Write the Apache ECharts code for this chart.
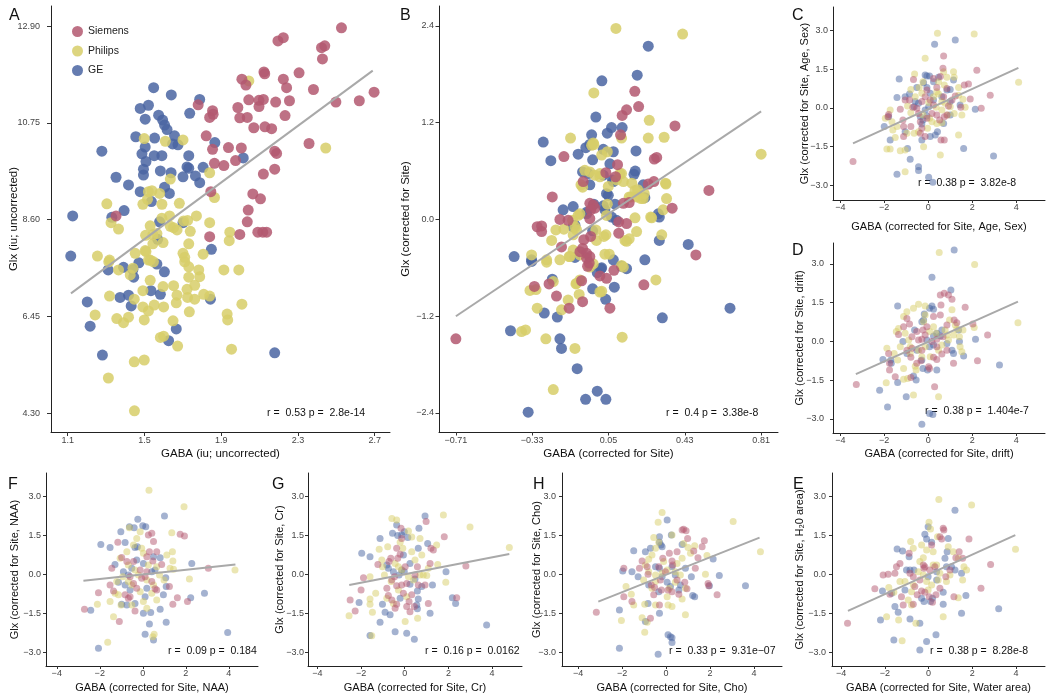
<!DOCTYPE html>
<html><head><meta charset="utf-8">
<script src="https://cdn.jsdelivr.net/npm/echarts@6/dist/echarts.min.js"></script>
<style>html,body{margin:0;padding:0;background:#fff}#c{width:1050px;height:698px}</style>
</head><body><div id="c"></div>
<script>
// ---------------- DATA ----------------
const vendors = ['Siemens', 'Philips', 'GE'];

// Tick labels
const xTicksA = [1.1, 1.5, 1.9, 2.3, 2.7];
const yTicksA = [4.30, 6.45, 8.60, 10.75, 12.90];
const xTicksB = [-0.71, -0.33, 0.05, 0.43, 0.81];
const yTicksB = [-2.4, -1.2, 0.0, 1.2, 2.4];
const xTicksSmall = [-4, -2, 0, 2, 4];
const yTicksSmall = [-3.0, -1.5, 0.0, 1.5, 3.0];

// Panel A: GABA (iu; uncorrected) vs Glx (iu; uncorrected)
const sieA = [[2.527,12.86],[2.196,12.57],[2.224,12.64],[2.423,12.42],[2.44,12.46],[2.428,12.17],[2.123,11.88],[2.127,11.84],[2.008,11.72],[2.029,11.59],[2.224,11.72],[2.241,11.53],[2.306,11.86],[2.381,11.49],[2.498,11.21],[2.62,11.24],[2.697,11.43],[2.044,11.26],[2.097,11.25],[2.12,11.27],[2.097,11.11],[2.184,11.21],[2.256,11.24],[1.78,11.15],[1.855,11.02],[1.858,10.94],[1.84,10.87],[1.987,11.09],[1.997,10.86],[2.036,10.87],[2.233,10.91],[2.07,10.64],[2.128,10.66],[2.163,10.62],[1.822,10.46],[1.938,10.2],[2.005,10.19],[1.855,10.16],[2.358,10.29],[2.179,10.12],[2.189,10.07],[1.865,9.85],[1.914,9.8],[1.975,9.91],[2.179,9.72],[2.12,9.61],[1.846,9.22],[2.065,9.17],[2.105,9.06],[2.041,8.81],[2.036,8.55],[2.091,8.32],[2.117,8.32],[2.137,8.32],[1.997,8.27],[1.84,8.22],[1.352,8.68]];
const phiA = [[2.044,11.68],[1.499,10.40],[1.609,10.34],[1.701,10.37],[2.445,10.19],[1.84,9.64],[1.635,9.50],[1.521,9.22],[1.539,9.24],[1.579,9.18],[1.516,9.05],[1.304,8.95],[1.492,8.94],[1.591,8.94],[1.682,8.96],[1.865,9.09],[1.326,8.53],[1.365,8.39],[1.53,8.46],[1.591,8.63],[1.631,8.68],[1.635,8.45],[1.652,8.42],[1.67,8.37],[1.725,8.58],[1.771,8.68],[1.84,8.53],[1.739,8.34],[1.945,8.32],[1.942,8.13],[1.506,8.25],[1.544,8.26],[1.565,8.29],[1.597,8.09],[1.544,8.06],[1.731,8.06],[1.504,7.91],[1.255,7.79],[1.318,7.70],[1.452,7.85],[1.701,7.85],[1.806,7.83],[1.53,7.70],[1.314,7.66],[1.365,7.48],[1.508,7.89],[1.521,7.70],[1.547,7.66],[1.426,7.37],[1.44,7.52],[1.71,7.66],[1.731,7.55],[1.783,7.48],[1.788,7.33],[1.731,7.32],[1.53,7.25],[1.597,7.11],[1.652,7.13],[1.762,7.14],[1.914,7.48],[1.992,7.48],[1.492,7.02],[1.722,7.05],[1.67,6.92],[1.725,6.87],[1.762,6.83],[1.809,6.94],[1.84,6.90],[1.318,6.90],[1.447,6.83],[1.492,6.66],[1.521,6.57],[1.551,6.70],[1.60,6.66],[1.666,6.75],[2.008,6.72],[1.243,6.48],[1.356,6.40],[1.417,6.43],[1.391,6.31],[1.499,6.37],[1.649,6.35],[1.734,6.55],[1.931,6.50],[1.934,6.37],[1.583,5.98],[1.60,6.01],[1.673,5.79],[1.954,5.72],[1.447,5.44],[1.499,5.48],[1.312,5.08],[1.448,4.35],[1.71,7.76],[1.704,8.57]];
const geA = [[1.548,11.53],[1.64,11.37],[1.788,11.27],[1.478,11.07],[1.521,11.14],[1.504,10.83],[1.574,10.92],[1.595,10.81],[1.605,10.70],[1.618,10.60],[1.736,10.96],[1.455,10.44],[1.553,10.41],[1.657,10.46],[1.647,10.28],[1.675,10.26],[1.867,10.31],[1.278,10.12],[1.504,10.21],[1.487,10.06],[1.508,9.89],[1.551,10.02],[1.591,10.02],[1.731,10.02],[2.015,9.97],[1.495,9.72],[1.495,9.59],[1.583,9.68],[1.639,9.64],[1.722,9.77],[1.731,9.74],[1.806,9.76],[1.352,9.54],[1.417,9.37],[1.701,9.55],[1.766,9.57],[1.788,9.42],[1.605,9.32],[1.63,9.18],[1.478,9.22],[1.536,9.00],[1.394,8.80],[1.33,8.65],[1.126,8.68],[1.579,8.55],[1.701,8.53],[1.569,8.16],[1.849,7.94],[1.116,7.79],[1.311,7.48],[1.391,7.54],[1.44,7.49],[1.444,7.32],[1.471,7.64],[1.565,7.61],[1.604,7.44],[1.202,6.77],[1.373,6.87],[1.417,6.92],[1.431,6.68],[1.534,7.02],[1.583,6.94],[1.844,6.83],[1.217,6.23],[1.666,6.17],[1.626,5.91],[1.281,5.59],[2.179,5.64]];
const fitA = [[1.117,6.96],[2.69,11.91]];

// Panel B: corrected for Site
const sieB = [[0.181,1.59],[0.14,1.36],[0.118,1.29],[0.2,1.40],[0.381,1.16],[0.11,1.05],[-0.172,0.78],[0.278,0.75],[0.29,0.77],[0.095,0.68],[0.085,0.53],[0.037,0.58],[-0.076,0.47],[0.248,0.44],[0.276,0.47],[-0.23,0.28],[-0.043,0.20],[-0.026,0.18],[-0.018,0.14],[-0.039,0.12],[0.124,0.20],[0.153,0.21],[0.367,0.14],[-0.192,0.00],[-0.151,-0.01],[-0.043,0.01],[0.101,-0.03],[0.14,-0.05],[-0.305,-0.09],[-0.283,-0.08],[-0.283,-0.15],[-0.073,-0.25],[-0.079,-0.36],[0.101,-0.17],[-0.184,-0.34],[-0.059,-0.42],[-0.043,-0.46],[0.485,-0.44],[-0.092,-0.40],[-0.059,-0.48],[-0.046,-0.54],[-0.054,-0.58],[0.007,-0.70],[0.04,-0.73],[0.077,-0.63],[-0.084,-0.76],[-0.319,-0.83],[-0.246,-0.80],[-0.209,-0.95],[-0.079,-1.02],[-0.146,-1.10],[0.057,-1.10],[0.226,-0.81],[-0.71,-1.48],[-0.039,-0.21],[0.55,0.36]];
const phiB = [[0.087,2.37],[0.419,2.30],[-0.023,1.57],[0.253,1.23],[-0.139,1.01],[0.248,1.01],[0.327,1.02],[0.115,1.01],[-0.023,0.93],[0.016,0.80],[0.044,0.84],[-0.068,0.61],[-0.043,0.59],[0.007,0.53],[-0.018,0.55],[-0.087,0.43],[-0.079,0.40],[0.107,0.57],[0.124,0.47],[0.166,0.45],[0.182,0.36],[0.049,0.41],[0.336,0.44],[0.339,0.26],[0.322,0.12],[0.153,0.28],[0.19,0.28],[0.223,0.26],[0.044,0.19],[0.26,0.03],[0.182,0.02],[-0.092,0.07],[-0.129,-0.01],[-0.212,-0.13],[-0.172,-0.12],[-0.233,-0.26],[-0.126,-0.19],[-0.109,-0.13],[0.037,-0.19],[0.19,-0.15],[0.315,-0.19],[0.032,-0.43],[0.14,-0.27],[0.153,-0.24],[0.054,-0.43],[-0.333,-0.44],[-0.258,-0.50],[-0.192,-0.50],[-0.258,-0.53],[-0.146,-0.46],[-0.092,-0.44],[0.124,-0.59],[-0.225,-0.77],[-0.341,-0.88],[-0.311,-0.87],[-0.092,-0.75],[-0.112,-0.80],[-0.096,-0.93],[-0.151,-1.00],[0.016,-0.89],[0.286,-0.75],[-0.305,-1.10],[-0.184,-1.12],[-0.383,-1.39],[-0.363,-1.37],[-0.262,-1.48],[-0.117,-1.60],[0.118,-1.46],[-0.225,-2.11],[-0.026,0.95],[-0.034,0.92],[0.007,0.57],[0.115,0.57],[0.09,0.49],[0.195,0.37],[0.162,0.28],[0.212,0.26],[0.228,0.32],[0.334,0.45],[0.265,0.02],[-0.101,0.05],[-0.117,-0.09],[0.04,0.05],[0.027,-0.21],[0.132,-0.26],[-0.013,-0.13],[-0.01,-0.26],[-0.126,-0.38],[-0.142,-0.46],[-0.026,-0.55],[-0.043,-0.59],[0.115,-0.57],[-0.109,-0.79],[0.007,-0.90],[0.81,0.81]];
const geB = [[0.248,2.15],[0.193,1.79],[0.017,1.72],[-0.013,1.27],[0.065,1.14],[0.118,1.14],[0.044,1.07],[-0.034,1.05],[-0.043,0.93],[-0.063,0.89],[-0.275,0.96],[-0.237,0.73],[-0.101,0.81],[0.024,0.87],[0.074,0.84],[-0.029,0.74],[0.187,0.85],[-0.079,0.59],[-0.051,0.57],[0.057,0.69],[0.07,0.49],[0.183,0.60],[0.177,0.56],[-0.043,0.43],[0.04,0.32],[0.082,0.19],[0.223,0.43],[0.231,0.27],[-0.176,0.12],[-0.126,0.16],[-0.059,0.07],[-0.023,0.19],[0.024,0.17],[0.032,0.12],[0.065,0.03],[0.09,-0.01],[0.298,0.07],[0.303,0.03],[-0.126,-0.09],[-0.029,-0.14],[0.447,-0.31],[-0.42,-0.46],[-0.333,-0.50],[0.074,-0.50],[0.231,-0.50],[-0.333,-0.52],[-0.117,-0.47],[0.115,-0.58],[0.14,-0.61],[-0.006,-0.66],[0.012,-0.61],[-0.23,-0.74],[-0.029,-0.86],[0.079,-0.84],[0.036,-0.99],[-0.27,-1.16],[-0.205,-1.21],[0.318,-1.22],[-0.438,-1.38],[-0.192,-1.48],[-0.184,-1.60],[-0.106,-1.85],[-0.006,-2.13],[-0.064,-2.23],[0.037,-2.23],[-0.35,-2.39],[0.024,0.55],[0.074,0.47],[0.049,0.30],[-0.059,0.09],[0.303,-0.26],[-0.117,-0.07],[0.016,-0.60],[0.655,-1.10]];
const fitB = [[-0.71,-1.2],[0.81,1.34]];

// Panel C: corrected for Site, Age, Sex
const sieC = [[-3.42,-2.08],[0.70,2.02],[0.67,1.54],[2.21,1.47],[2.82,0.50],[1.91,0.35],[2.41,-0.01],[1.48,0.03],[1.64,0.89],[1.83,0.93],[-0.67,1.11],[-1.27,-0.05],[-1.83,-0.34],[-1.80,-0.25],[-1.15,-0.47],[-1.12,-0.72],[-1.12,-1.11],[-0.70,0.03],[-0.52,-0.01],[-0.29,0.25],[-0.14,0.44],[-0.85,0.31],[-0.79,-0.72],[-0.36,-0.53],[-0.29,-0.79],[-0.14,-1.11],[-0.36,-0.98],[0.24,1.15],[0.39,0.80],[0.70,0.44],[0.85,0.76],[0.17,-0.21],[0.39,-0.27],[0.73,-0.34],[0.85,-0.27],[0.58,-1.24],[0.73,-1.24],[1.08,0.31],[1.23,0.47],[-0.06,0.70],[0.09,0.31],[0.24,0.12],[0.55,1.22],[-1.05,0.31],[-0.44,-0.21],[-0.06,-0.40],[0.52,-0.47],[0.92,0.08]];
const phiC = [[0.42,2.90],[2.09,2.87],[-0.14,1.93],[4.11,1.00],[-0.62,1.32],[-0.24,1.02],[-0.41,0.80],[-0.79,0.72],[1.15,1.41],[1.18,1.19],[1.38,0.80],[0.70,1.41],[0.85,1.19],[0.73,0.89],[0.02,0.21],[0.24,0.44],[0.39,0.63],[0.47,0.54],[1.53,-0.27],[1.68,0.03],[1.58,0.34],[-1.95,-0.40],[-1.65,-0.53],[-1.61,-0.85],[-1.88,-1.59],[-1.73,-1.59],[-1.27,-1.66],[-1.05,-1.63],[-1.05,-2.47],[-0.64,-0.98],[-0.44,-0.92],[-0.21,-1.50],[0.17,-0.53],[0.39,-0.60],[0.62,-0.57],[0.88,-0.27],[1.38,-1.05],[0.55,-1.82],[1.0,0.05],[1.18,-0.21],[-1.42,-0.72],[-1.50,-1.14],[-0.29,0.57],[-0.59,0.44],[0.62,0.25],[0.77,0.18],[0.47,1.02],[-1.73,-0.08],[-0.94,0.08],[-0.79,-0.18],[-0.24,-0.27],[0.06,-0.40],[0.36,0.03],[0.62,-0.08],[1.38,0.50],[-0.97,-0.98],[-0.03,-0.79]];
const geC = [[0.29,2.47],[1.23,2.64],[-1.32,1.13],[-0.14,1.28],[-0.06,1.24],[0.06,1.24],[-0.21,0.98],[-0.06,0.80],[0.24,1.02],[0.47,1.19],[1.15,1.09],[1.0,0.72],[-0.85,0.54],[-0.52,0.80],[-1.42,0.41],[-1.05,0.44],[-0.59,0.25],[-0.44,0.18],[0.02,0.05],[0.24,0.31],[-0.14,-0.08],[1.0,0.25],[1.45,0.12],[2.14,-0.05],[-1.80,-0.34],[-2.0,-0.72],[-0.36,-0.34],[-0.24,-0.47],[-0.06,-0.31],[0.42,-0.92],[0.70,-0.60],[-1.05,-0.92],[-1.73,-1.24],[-0.94,-1.57],[-0.29,-1.24],[0.09,-1.11],[0.32,-1.05],[-0.82,-1.99],[-0.44,-2.28],[-0.44,-2.43],[-1.42,-2.57],[0.02,-2.69],[0.21,-2.88],[1.61,-1.57],[2.97,-1.86],[1.0,-0.27],[0.85,0.70],[-0.64,0.05],[0.09,0.57],[0.62,0.44],[-0.29,-0.62]];
const fitC = [[-3.42,-1.37],[4.1,1.56]];

// Panel D: corrected for Site, drift
const sieD = [[-3.27,-1.67],[-1.80,-0.47],[-1.76,-0.85],[-1.76,-1.11],[-1.50,-1.37],[-1.35,0.27],[-1.12,0.57],[-0.97,0.89],[-0.85,0.67],[-0.74,0.18],[-0.52,0.38],[-0.97,-0.34],[-0.79,-0.62],[-0.24,0.44],[-0.14,0.25],[-0.29,0.08],[-0.52,-0.85],[-0.33,-0.75],[-0.79,-1.40],[0.02,-0.98],[0.06,-1.05],[0.29,-1.76],[0.55,1.80],[0.73,1.86],[0.92,1.80],[1.08,1.63],[0.58,1.41],[0.55,1.02],[1.68,1.32],[1.18,0.83],[1.30,0.72],[2.03,0.67],[2.70,0.25],[2.24,-0.75],[1.15,-0.85],[0.24,-0.62],[0.39,-0.70],[0.85,0.63],[0.67,0.18],[0.17,-0.01],[0.39,0.08],[0.62,-0.49],[-0.29,-0.34],[0.24,0.96],[-0.06,0.57],[-0.74,-0.27],[0.39,-0.21],[0.85,-0.34],[-0.44,0.05]];
const phiD = [[0.50,3.44],[2.11,2.98],[4.08,0.72],[-0.44,1.44],[-0.14,1.37],[-0.67,1.28],[-0.14,1.02],[-0.97,1.15],[-1.12,0.96],[-1.35,0.50],[-1.45,0.38],[-1.88,-0.27],[-1.55,-0.47],[-1.39,-0.72],[-1.91,-1.60],[-1.12,-1.05],[-0.94,-1.44],[-1.12,-1.47],[-0.59,-0.96],[-0.55,-1.11],[-0.67,-2.08],[0.47,-2.15],[1.08,1.22],[0.97,0.83],[1.23,0.63],[1.30,0.47],[1.42,0.18],[1.58,0.44],[1.45,-0.21],[1.53,-0.40],[2.09,0.54],[0.77,0.44],[0.85,0.25],[0.24,0.57],[0.36,0.31],[-0.14,-0.21],[-0.29,-0.60],[0.47,-0.34],[-0.89,0.05],[-0.82,-0.21],[-0.21,0.76],[0.06,0.38],[-1.27,-0.21],[-0.82,-0.47],[-0.44,-0.34],[0.09,-0.60],[0.62,-0.14],[0.92,0.05],[-1.05,0.31],[1.15,0.25]];
const geD = [[1.18,3.54],[0.17,2.48],[1.03,1.99],[-1.39,1.37],[-0.18,1.06],[0.06,1.28],[0.17,1.37],[0.24,1.24],[-0.29,0.76],[-0.21,0.83],[-0.62,0.44],[-1.15,-0.01],[-1.70,-0.72],[-1.68,-0.85],[-2.06,-0.70],[0.24,0.21],[0.39,0.31],[0.55,0.21],[0.06,-0.21],[0.24,-0.14],[1.08,-0.34],[1.15,-0.47],[1.42,-0.01],[1.61,-0.57],[2.15,0.08],[3.24,-0.92],[-0.24,-1.05],[-0.03,-1.11],[0.39,-1.11],[-0.67,-1.34],[-0.55,-1.50],[-1.39,-1.59],[-2.21,-1.89],[-1.0,-2.15],[-1.85,-2.54],[0.06,-2.79],[0.21,-2.83],[-0.29,-3.21],[0.85,-0.08],[1.38,0.44],[-0.52,-0.34],[-0.06,0.05],[0.62,0.44],[-0.29,-0.72],[-0.97,-0.47]];
const fitD = [[-3.29,-1.27],[4.08,1.54]];

// Panel F: corrected for Site, NAA
const sieF = [[-2.71,-1.35],[-2.06,-0.71],[-1.44,0.23],[-1.52,-0.41],[-1.36,-0.64],[-1.09,-1.82],[-1.16,1.23],[-0.98,0.65],[-0.74,0.49],[-0.67,-0.92],[-0.59,-0.86],[-0.36,-1.41],[-0.12,0.17],[-0.05,-0.15],[-0.43,-0.35],[0.26,1.51],[0.42,1.58],[0.50,1.26],[0.31,0.87],[0.19,0.68],[0.47,0.51],[0.65,-0.60],[0.57,-0.56],[0.88,0.38],[1.24,-0.47],[1.40,-1.15],[1.61,-0.90],[1.74,1.54],[1.94,1.47],[2.08,-1.05],[3.05,0.23],[-0.28,-0.54],[0.19,0.10],[-0.82,-0.79],[-0.43,0.49],[0.11,-0.09],[0.42,-0.28],[-0.59,-0.09],[0.65,0.87]];
const phiF = [[0.29,3.24],[1.92,2.60],[4.29,0.17],[1.35,1.60],[1.38,0.87],[1.40,0.51],[1.27,0.23],[1.43,0.19],[2.17,-0.18],[-2.11,-1.15],[-1.63,-2.62],[-1.36,-1.63],[-1.52,-1.05],[-1.29,-0.73],[-1.13,-0.79],[-1.05,0.62],[-0.67,0.36],[-0.62,1.79],[-0.43,1.13],[-0.28,1.38],[-0.12,1.64],[-0.05,1.0],[0.03,0.81],[-0.36,0.17],[0.19,-0.22],[0.42,-0.73],[0.03,-1.05],[0.47,-2.40],[0.53,-2.31],[0.19,-1.31],[0.65,0.29],[0.78,-0.03],[0.99,-0.22],[-0.67,-0.28],[-0.51,-0.41],[-0.93,-0.09],[0.65,-0.99],[-1.01,-1.18],[-1.21,-0.28],[-0.2,-0.03],[0.26,0.36],[0.5,-0.41],[-0.74,0.87],[1.12,0.74],[-0.12,-0.67],[-0.51,-1.18]];
const geF = [[-2.06,-2.85],[-2.42,-1.38],[-1.95,1.15],[-1.52,1.03],[-1.02,1.64],[-0.62,1.83],[-0.40,1.79],[-0.23,2.12],[0.0,1.87],[0.14,1.83],[1.01,2.24],[-0.82,1.22],[-0.36,1.03],[-0.25,1.06],[-1.29,0.38],[-0.9,0.10],[-0.67,-0.03],[0.03,0.42],[-0.51,0.23],[0.5,0.68],[0.42,0.10],[0.81,0.64],[1.07,-0.13],[1.09,-0.47],[0.96,-0.79],[2.28,0.42],[2.23,-0.90],[2.87,-0.73],[-0.98,-1.15],[-0.74,-1.18],[-0.36,-1.12],[0.11,-0.86],[0.03,-1.50],[0.37,-1.47],[0.31,-1.91],[0.11,-2.31],[0.5,-2.53],[1.09,-1.85],[0.81,-1.35],[3.95,-2.24],[-0.82,-0.41],[-1.13,-0.31],[-0.28,0.55],[0.19,-0.54],[-0.59,-0.6],[0.57,0.17]];
const fitF = [[-2.76,-0.25],[4.31,0.38]];

// Panel G: corrected for Site, Cr
const sieG = [[-2.5,-0.99],[-2.27,-1.41],[-1.89,-0.13],[-2.0,-0.6],[-1.23,0.38],[-0.82,-0.54],[-0.75,-0.82],[-0.59,-0.99],[-0.44,-1.31],[-0.37,-1.15],[-0.17,1.77],[-0.14,1.38],[-0.37,1.0],[-0.21,0.77],[-0.32,0.62],[-0.47,-0.09],[-0.37,-0.44],[-0.14,-0.41],[0.09,-0.35],[0.32,-0.79],[0.2,-1.05],[0.44,-1.24],[0.09,-1.24],[0.24,-1.44],[0.58,0.29],[0.62,-0.41],[0.93,-0.41],[0.98,2.03],[1.2,1.0],[1.31,0.94],[1.16,0.42],[1.81,1.45],[2.38,-0.90],[2.8,0.32],[1.08,-1.12],[-0.64,0.62],[-0.72,0.49],[0.02,0.29],[-0.59,-0.22],[0.47,-0.03],[-0.06,-0.73]];
const phiG = [[-2.55,-1.60],[-1.59,-0.09],[-1.59,-0.95],[-1.59,-1.15],[-1.48,-1.46],[-1.51,-2.37],[-1.33,-0.73],[-1.17,0.96],[-1.05,0.55],[-1.02,0.29],[-0.59,2.15],[-0.37,2.09],[-0.21,1.23],[-0.09,1.0],[0.17,1.67],[0.32,1.44],[0.70,1.38],[0.32,0.87],[0.47,0.55],[0.70,-0.03],[0.85,-0.03],[1.01,-0.05],[1.46,1.13],[1.51,0.38],[1.77,2.28],[1.88,-0.31],[2.99,1.82],[4.79,1.03],[0.02,-1.82],[0.59,-1.69],[-0.93,-0.03],[-0.62,-0.28],[-0.52,-1.12],[-0.14,0.17],[0.09,-0.86],[-0.78,1.06],[-0.29,0.29],[0.40,-0.22],[-0.44,0.42],[0.17,-0.09],[0.78,0.74],[-0.29,-0.6],[-0.82,-0.92],[1.08,0.23]];
const geG = [[-1.59,-2.36],[-2.09,-1.09],[-1.97,0.81],[-1.59,0.68],[-1.13,1.38],[-1.02,-1.15],[-0.9,-1.46],[-1.13,-1.85],[-0.67,-1.56],[-0.56,1.58],[-0.37,1.90],[-0.32,1.49],[-0.14,1.51],[-0.02,1.64],[0.14,1.42],[-0.26,-0.03],[-0.06,0.74],[-0.14,0.17],[-0.02,0.10],[-0.44,-2.21],[0.09,-2.27],[0.44,-2.50],[0.58,-0.64],[0.62,-0.95],[0.55,-1.18],[0.58,-1.33],[0.47,-0.18],[0.62,1.0],[0.65,1.77],[0.93,2.24],[1.05,1.19],[1.16,-1.50],[1.27,-0.41],[1.89,0.10],[2.18,-0.90],[2.33,-1.12],[3.75,-1.95],[0.24,-0.38],[-0.82,0.36],[-0.75,0.23],[-0.52,0.10],[0.24,0.42],[-0.21,-0.92],[0.78,-0.47]];
const fitG = [[-2.54,-0.41],[4.79,0.78]];

// Panel H: corrected for Site, Cho
const sieH = [[-3.17,-1.46],[-1.92,0.23],[-1.92,-0.86],[-1.55,-1.05],[-1.09,0.51],[-1.21,0.23],[-0.82,0.0],[-0.67,-0.41],[-0.52,-0.51],[-0.71,-1.69],[-0.33,0.29],[-0.26,-0.22],[-0.21,-0.6],[-0.30,-1.18],[0.15,0.81],[0.27,0.51],[0.30,0.36],[0.27,-0.67],[0.58,-0.77],[0.73,1.71],[0.80,1.73],[0.91,1.68],[0.98,1.38],[0.85,-0.31],[0.95,-0.56],[1.26,0.90],[1.45,0.64],[1.33,0.23],[1.74,1.29],[1.64,1.06],[1.91,-0.35],[1.94,-0.44],[2.32,-0.79],[0.09,-0.60],[-0.15,0.62],[0.5,0.87],[-0.03,0.10],[0.5,-0.22],[-0.56,-0.79],[-0.86,0.29]];
const phiH = [[-0.18,2.38],[-0.36,2.0],[-0.56,1.42],[0.27,1.51],[0.80,1.19],[1.0,1.03],[1.11,0.81],[1.30,1.10],[1.86,0.72],[1.79,0.0],[3.05,2.03],[4.29,0.87],[-1.82,-0.47],[-1.58,-0.77],[-1.47,-1.18],[-2.03,-1.78],[-0.97,-2.23],[-0.86,-1.85],[-1.09,-1.67],[-0.97,-1.15],[-0.64,-0.54],[-0.48,-1.18],[-0.94,0.36],[-0.79,0.58],[-0.64,0.74],[-0.79,0.10],[-0.48,-0.03],[-0.18,0.04],[0.05,0.17],[0.15,-0.54],[0.42,-0.31],[0.65,-0.03],[0.73,-0.95],[0.88,-1.56],[0.09,-1.18],[0.27,-1.24],[-0.48,1.0],[-0.33,1.23],[0.5,0.42],[0.73,0.62],[-0.48,-0.28],[-0.11,0.49],[0.42,0.10],[-1.02,-0.22],[0.88,-0.54],[0.05,-0.86]];
const geH = [[-2.12,-2.85],[-2.12,-1.37],[-1.47,0.91],[-1.55,0.10],[-1.97,0.13],[-0.94,0.87],[-0.71,1.0],[-0.94,-1.82],[-0.82,-1.12],[-0.30,1.45],[-0.30,1.23],[-0.23,1.13],[-0.18,1.06],[0.05,2.09],[0.24,1.51],[-0.48,0.29],[-0.30,0.23],[-0.18,-0.09],[0.05,-0.31],[0.20,-0.47],[-0.30,-1.50],[0.09,-2.33],[0.20,-2.40],[0.27,-2.63],[0.27,-2.44],[-0.36,-3.08],[0.73,1.15],[0.88,0.23],[1.15,-0.09],[1.21,-0.82],[1.30,-0.86],[2.14,0.59],[2.42,-0.05],[1.97,-0.44],[3.61,-0.44],[0.42,-0.03],[0.58,-0.60],[-1.27,-0.09],[0.27,0.29],[-0.33,-0.67],[0.65,-0.41],[-0.79,-0.41]];
const fitH = [[-3.08,-1.05],[4.25,1.41]];

// Panel E: corrected for Site, Water area
const sieE = [[-3.71,-1.88],[-2.46,-0.56],[-2.08,-0.03],[-1.85,0.0],[-1.54,0.04],[-1.47,0.29],[-1.31,0.42],[-1.24,-0.86],[-1.16,-1.18],[-1.77,-0.77],[-0.89,0.81],[-0.70,-0.09],[-0.63,-0.47],[-0.52,-0.79],[-0.70,-1.15],[-0.24,0.36],[-0.21,0.23],[-0.17,0.29],[-0.32,-0.64],[-0.17,-0.69],[0.03,-0.86],[0.18,-1.08],[0.34,-0.79],[0.52,1.45],[0.60,1.36],[0.67,1.77],[0.70,1.71],[0.79,-0.09],[0.98,0.17],[1.16,-0.86],[1.40,0.87],[1.56,0.62],[1.25,0.64],[1.85,1.36],[2.40,-0.54],[2.84,0.38],[0.29,0.29],[0.14,1.13],[0.06,0.17],[-0.40,-0.22],[0.52,-0.54],[-0.85,0.04]];
const phiE = [[0.47,2.88],[1.97,2.67],[0.02,2.0],[0.09,1.74],[-0.82,1.26],[-0.70,1.0],[-0.32,1.13],[-0.09,0.94],[0.21,0.87],[0.41,1.45],[0.90,1.06],[1.13,0.87],[1.36,0.62],[1.62,0.29],[1.74,0.17],[1.56,-0.22],[3.98,0.96],[-1.82,-0.51],[-1.59,-0.69],[-1.92,-1.63],[-1.37,-1.76],[-1.21,-2.56],[-0.93,-0.99],[-0.78,-1.18],[-0.58,-1.88],[-1.08,-0.28],[-0.70,-0.41],[-0.24,-0.03],[-0.09,-0.28],[0.14,-0.41],[0.44,-0.22],[0.52,0.04],[0.82,-0.28],[0.67,-1.63],[1.36,-0.90],[-0.40,0.49],[-0.24,0.64],[0.21,0.36],[-0.47,0.10],[0.37,0.36],[-0.78,-0.67],[-0.02,-0.60],[0.98,-0.03],[-1.31,-0.28]];
const geE = [[1.21,2.47],[-0.02,1.83],[-0.17,1.54],[-0.09,1.36],[0.14,1.23],[-1.44,0.97],[-1.19,0.90],[-0.89,0.68],[-0.85,0.17],[-1.01,0.17],[-0.67,0.17],[-2.11,-0.64],[-1.69,-0.73],[-1.54,-1.24],[-1.39,-1.46],[-2.20,-1.76],[-0.85,-1.72],[-0.40,-1.88],[-1.59,-2.53],[-0.09,-2.59],[0.34,-2.33],[-0.40,-2.91],[-0.21,-1.05],[0.09,-1.05],[0.18,-0.92],[0.67,-1.15],[0.67,-0.69],[-0.02,-0.09],[0.37,-0.22],[0.75,0.62],[0.85,0.87],[1.05,0.29],[1.21,0.17],[1.51,0.04],[1.71,-0.82],[1.51,-1.50],[3.21,-1.33],[0.90,1.38],[0.37,0.10],[-0.32,-0.92],[0.82,0.29],[-1.08,-0.60]];
const fitE = [[-3.69,-1.41],[3.97,1.51]];

// ---------------- LAYOUT / STYLE ----------------
const FONT = '"Liberation Sans", Arial, Helvetica, sans-serif';
const COLORS = { Siemens: '#B35870', Philips: '#D7CE68', GE: '#4A65A2' };
const fmt = d => v => v.toFixed(d).replace('-', '\u2212');

const panels = [
  { L:'A', sets:{Siemens:sieA, Philips:phiA, GE:geA}, fit:fitA, stat:'r =  0.53 p =  2.8e-14',
    grid:{left:51, top:6, width:339, height:426}, xr:[1.013,2.78], yr:[3.88,13.345],
    xt:xTicksA, yt:yTicksA, xd:1, yd:2, xName:'GABA (iu; uncorrected)', yName:'Glx (iu; uncorrected)',
    xGap:16, yGap:31, nameSize:11.5, labSize:9, xLM:4, yLM:11, tick:4, sym:11, op:0.85,
    letter:[9,8], statPos:[267,408], statSize:10.5 },
  { L:'B', sets:{Siemens:sieB, Philips:phiB, GE:geB}, fit:fitB, stat:'r =  0.4 p =  3.38e-8',
    grid:{left:439, top:6, width:339, height:426}, xr:[-0.794,0.894], yr:[-2.636,2.648],
    xt:xTicksB, yt:yTicksB, xd:2, yd:1, xName:'GABA (corrected for Site)', yName:'Glx (corrected for Site)',
    xGap:16, yGap:27.5, nameSize:11.5, labSize:9, xLM:4, yLM:5, tick:3.5, sym:11, op:0.85,
    letter:[400,8], statPos:[666,408], statSize:10.5 },
  { L:'C', sets:{Siemens:sieC, Philips:phiC, GE:geC}, fit:fitC, stat:'r =  0.38 p =  3.82e-8',
    grid:{left:833, top:7, width:212, height:193}, xr:[-4.33,5.31], yr:[-3.57,3.92],
    xt:xTicksSmall, yt:yTicksSmall, xd:0, yd:1, xName:'GABA (corrected for Site, Age, Sex)', yName:'Glx (corrected for Site, Age, Sex)',
    xGap:21, yGap:22.5, nameSize:11, labSize:9, xLM:3, yLM:5, tick:3, sym:7, op:0.5,
    letter:[792,8], statPos:[918,178], statSize:10.5 },
  { L:'D', sets:{Siemens:sieD, Philips:phiD, GE:geD}, fit:fitD, stat:'r =  0.38 p =  1.404e-7',
    grid:{left:833, top:243, width:212, height:190}, xr:[-4.33,5.31], yr:[-3.55,3.81],
    xt:xTicksSmall, yt:yTicksSmall, xd:0, yd:1, xName:'GABA (corrected for Site, drift)', yName:'Glx (corrected for Site, drift)',
    xGap:15, yGap:28, nameSize:11, labSize:9, xLM:3, yLM:9, tick:3, sym:7, op:0.5,
    letter:[792,243], statPos:[925,406], statSize:10.5 },
  { L:'F', sets:{Siemens:sieF, Philips:phiF, GE:geF}, fit:fitF, stat:'r =  0.09 p =  0.184',
    grid:{left:46, top:473, width:212, height:193}, xr:[-4.5,5.36], yr:[-3.53,3.90],
    xt:xTicksSmall, yt:yTicksSmall, xd:0, yd:1, xName:'GABA (corrected for Site, NAA)', yName:'Glx (corrected for Site, NAA)',
    xGap:16, yGap:25.5, nameSize:11, labSize:9, xLM:3, yLM:5, tick:3, sym:7, op:0.5,
    letter:[8,477], statPos:[168,646], statSize:10.5 },
  { L:'G', sets:{Siemens:sieG, Philips:phiG, GE:geG}, fit:fitG, stat:'r =  0.16 p =  0.0162',
    grid:{left:308, top:473, width:214, height:193}, xr:[-4.43,5.37], yr:[-3.53,3.90],
    xt:xTicksSmall, yt:yTicksSmall, xd:0, yd:1, xName:'GABA (corrected for Site, Cr)', yName:'Glx (corrected for Site, Cr)',
    xGap:16, yGap:22.5, nameSize:11, labSize:9, xLM:3, yLM:4, tick:3, sym:7, op:0.5,
    letter:[272,477], statPos:[425,646], statSize:10.5 },
  { L:'H', sets:{Siemens:sieH, Philips:phiH, GE:geH}, fit:fitH, stat:'r =  0.33 p =  9.31e\u221207',
    grid:{left:562, top:473, width:220, height:193}, xr:[-4.73,5.27], yr:[-3.53,3.90],
    xt:xTicksSmall, yt:yTicksSmall, xd:0, yd:1, xName:'GABA (corrected for Site, Cho)', yName:'Glx (corrected for Site, Cho)',
    xGap:16, yGap:20, nameSize:11, labSize:9, xLM:3, yLM:6, tick:3, sym:7, op:0.5,
    letter:[533,477], statPos:[669,646], statSize:10.5 },
  { L:'E', sets:{Siemens:sieE, Philips:phiE, GE:geE}, fit:fitE, stat:'r =  0.38 p =  8.28e-8',
    grid:{left:832, top:473, width:213, height:193}, xr:[-4.42,5.33], yr:[-3.53,3.90],
    xt:xTicksSmall, yt:yTicksSmall, xd:0, yd:1, xName:'GABA (corrected for Site, Water area)', yName:'Glx (corrected for Site, H\u20820 area)',
    xGap:16, yGap:26.5, nameSize:11, labSize:9, xLM:3, yLM:6, tick:3, sym:7, op:0.5,
    letter:[793,477], statPos:[930,646], statSize:10.5 }
];

const grids = [], xAxes = [], yAxes = [], series = [], graphics = [];
panels.forEach((p, i) => {
  grids.push(Object.assign({containLabel:false}, p.grid));
  const axisCommon = {
    type:'value', gridIndex:i, splitLine:{show:false},
    axisLine:{show:true, onZero:false, lineStyle:{color:'#222', width:1}},
    nameTextStyle:{fontFamily:FONT, fontSize:p.nameSize, color:'#111'},
    nameLocation:'middle', nameMoveOverlap:false
  };
  xAxes.push(Object.assign({}, axisCommon, {
    min:p.xr[0], max:p.xr[1], name:p.xName, nameGap:p.xGap,
    axisTick:{show:true, length:p.tick, customValues:p.xt, lineStyle:{color:'#333'}},
    axisLabel:{customValues:p.xt, formatter:fmt(p.xd), fontFamily:FONT, fontSize:p.labSize, color:'#444', margin:p.xLM}
  }));
  yAxes.push(Object.assign({}, axisCommon, {
    min:p.yr[0], max:p.yr[1], name:p.yName, nameGap:p.yGap, nameRotate:90,
    axisTick:{show:true, length:p.tick, customValues:p.yt, lineStyle:{color:'#333'}},
    axisLabel:{customValues:p.yt, formatter:fmt(p.yd), fontFamily:FONT, fontSize:p.labSize, color:'#444', margin:p.yLM}
  }));
  ['GE','Philips','Siemens'].forEach(v => {
    series.push({
      type:'scatter', name:v, xAxisIndex:i, yAxisIndex:i, data:p.sets[v],
      symbolSize:p.sym, itemStyle:{color:COLORS[v], opacity:p.op}, silent:true, z:2
    });
  });
  series.push({
    type:'line', xAxisIndex:i, yAxisIndex:i, data:p.fit, symbol:'none', silent:true, z:4,
    lineStyle:{color:'#a9a9a9', width:2}
  });
  graphics.push({type:'text', left:p.letter[0], top:p.letter[1],
    style:{text:p.L, font:'16px ' + FONT, fill:'#111'}});
  graphics.push({type:'text', left:p.statPos[0], top:p.statPos[1],
    style:{text:p.stat, font:p.statSize + 'px ' + FONT, fill:'#111'}});
});

const chart = echarts.init(document.getElementById('c'), null, {renderer:'canvas'});
chart.setOption({
  animation:false,
  backgroundColor:'#fff',
  grid:grids, xAxis:xAxes, yAxis:yAxes, series:series, graphic:graphics,
  legend:{
    data:vendors, orient:'vertical', left:67, top:21, icon:'circle',
    itemWidth:11, itemHeight:11, itemGap:8.5,
    textStyle:{fontFamily:FONT, fontSize:10.5, color:'#222'}, selectedMode:false
  }
});
</script>
</body></html>
